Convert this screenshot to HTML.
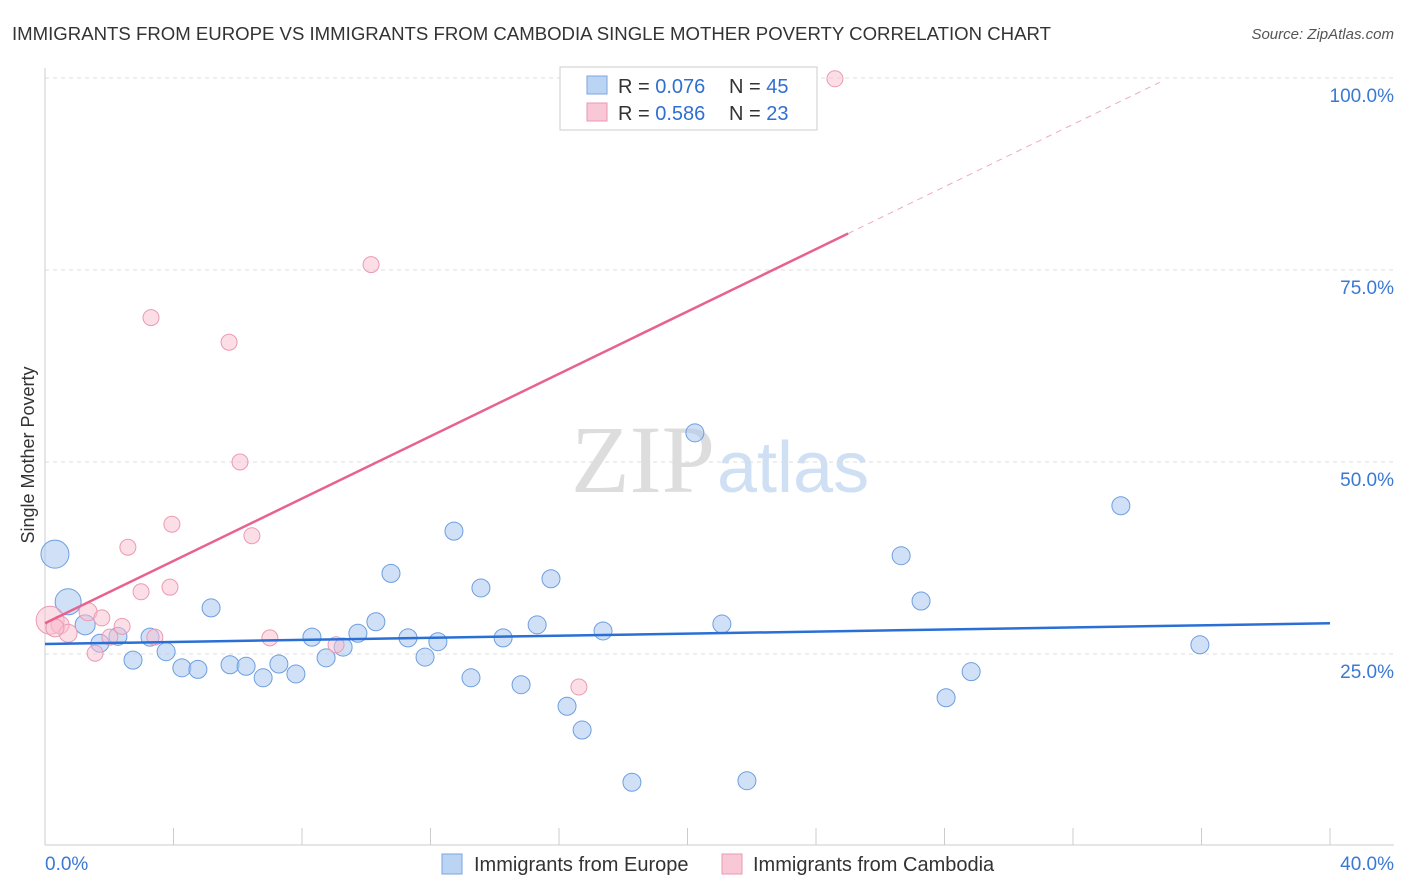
<!DOCTYPE html>
<html><head><meta charset="utf-8"><style>
body{margin:0;background:#fff;font-family:"Liberation Sans",sans-serif;}
svg{display:block}
</style></head><body>
<svg id="chart" width="1406" height="892" xmlns="http://www.w3.org/2000/svg">
<text x="12" y="40" font-size="18.6" fill="#333">IMMIGRANTS FROM EUROPE VS IMMIGRANTS FROM CAMBODIA SINGLE MOTHER POVERTY CORRELATION CHART</text>
<text x="1394" y="39" font-size="15" fill="#555" text-anchor="end" font-style="italic">Source: ZipAtlas.com</text>
<text x="715" y="492" font-size="96" fill="#ddd" text-anchor="end" font-family="Liberation Serif">ZIP</text>
<text x="717" y="492" font-size="72" fill="#cfe0f4">atlas</text>
<text x="34" y="455" font-size="18" fill="#333" text-anchor="middle" transform="rotate(-90 34 455)">Single Mother Poverty</text>
<g id="grid"></g><g id="marks"></g>
<g>
<rect x="560" y="67" width="257" height="63" fill="#fff" stroke="#ccc"/>
<rect x="587" y="76" width="20" height="18" fill="#bcd4f4" stroke="#7aa6e0"/>
<rect x="587" y="103" width="20" height="18" fill="#f9c8d6" stroke="#ec97b0"/>
<text x="618" y="93" font-size="20" fill="#333">R = <tspan fill="#2f6fd1">0.076</tspan></text>
<text x="729" y="93" font-size="20" fill="#333">N = <tspan fill="#2f6fd1">45</tspan></text>
<text x="618" y="120" font-size="20" fill="#333">R = <tspan fill="#2f6fd1">0.586</tspan></text>
<text x="729" y="120" font-size="20" fill="#333">N = <tspan fill="#2f6fd1">23</tspan></text>
</g>
<g>
<rect x="442" y="854" width="20" height="20" fill="#bcd4f4" stroke="#7aa6e0"/>
<text x="474" y="871" font-size="20" fill="#333">Immigrants from Europe</text>
<rect x="722" y="854" width="20" height="20" fill="#f9c8d6" stroke="#ec97b0"/>
<text x="753" y="871" font-size="20" fill="#333">Immigrants from Cambodia</text>
</g>
<text x="45" y="870" font-size="19" fill="#3a78d4">0.0%</text>
<text x="1394" y="870" font-size="19" fill="#3a78d4" text-anchor="end">40.0%</text>
</svg>
<script>
const yTicks=[25,50,75,100];
const yTickLabels=["25.0%","50.0%","75.0%","100.0%"];
const xTicks=[0,4,8,12,16,20,24,28,32,36,40];
const europeX=[0.31,0.72,1.25,1.71,2.27,2.74,3.27,3.77,4.26,4.76,5.17,5.76,6.26,6.79,7.28,7.81,8.31,8.75,9.28,9.74,10.30,10.77,11.30,11.83,12.23,12.73,13.26,13.57,14.26,14.82,15.32,15.75,16.25,16.72,17.37,18.27,20.23,21.07,21.85,26.65,27.27,28.05,28.83,33.49,35.95];
const europeY=[38.0,31.8,28.8,26.4,27.3,24.2,27.2,25.3,23.2,23.0,31.0,23.6,23.4,21.9,23.7,22.4,27.2,24.5,25.9,27.7,29.2,35.5,27.1,24.6,26.6,41.0,21.9,33.6,27.1,21.0,28.8,34.8,18.2,15.1,28.0,8.3,53.8,28.9,8.5,37.8,31.9,19.3,22.7,44.3,26.2];
const europeR=[14,13,10,9,9,9,9,9,9,9,9,9,9,9,9,9,9,9,9,9,9,9,9,9,9,9,9,9,9,9,9,9,9,9,9,9,9,9,9,9,9,9,9,9,9];
const cambX=[0.16,0.47,0.72,1.34,1.56,1.77,2.02,2.40,2.58,2.99,3.30,3.42,3.89,3.95,5.73,6.07,6.44,7.00,9.06,10.15,16.62,24.59,0.31];
const cambY=[29.4,28.8,27.7,30.5,25.1,29.7,27.2,28.6,38.9,33.1,68.8,27.2,33.7,41.9,65.6,50.0,40.4,27.1,26.2,75.7,20.7,99.9,28.4];
const cambR=[14,9,9,9,8,8,8,8,8,8,8,8,8,8,8,8,8,8,8,8,8,8,9];
const europeFit=[26.3,29.0];
const cambFit=[29.0,2.03,25.0,34.7];
const NS="http://www.w3.org/2000/svg";
const xs=v=>45+v/40*1285, ys=v=>846-v*7.68;
function mk(t,a,p){const e=document.createElementNS(NS,t);for(const k in a)e.setAttribute(k,a[k]);p.appendChild(e);return e;}
const grid=document.getElementById('grid'),marks=document.getElementById('marks');
yTicks.forEach((t,i)=>{
 const l=mk('line',{x1:45,x2:1394,y1:ys(t),y2:ys(t),stroke:'#ddd','stroke-dasharray':'4,4'},grid);
 
 
 const tx=mk('text',{x:1394,y:ys(t)+24,'font-size':19,fill:'#3a78d4','text-anchor':'end'},grid);tx.textContent=yTickLabels[i];
 
 
});
const ax=mk('line',{x1:45,x2:1394,y1:845,y2:845,stroke:'#ccc'},grid);


const ay=mk('line',{x1:45,x2:45,y1:68,y2:845,stroke:'#ccc'},grid);


xTicks.forEach(t=>{const l=mk('line',{x1:xs(t),x2:xs(t),y1:828,y2:845,stroke:'#ccc'},grid);
 
 });
europeX.forEach((x,i)=>{const c=mk('circle',{cx:xs(x),cy:ys(europeY[i]),r:europeR[i],fill:'rgba(170,200,240,0.55)',stroke:'#6d9ee0','stroke-width':1},marks);
 
 });
cambX.forEach((x,i)=>{const c=mk('circle',{cx:xs(x),cy:ys(cambY[i]),r:cambR[i],fill:'rgba(249,190,208,0.5)',stroke:'#ec9ab3','stroke-width':1},marks);
 
 });
const bl=mk('line',{x1:xs(0),y1:ys(europeFit[0]),x2:xs(40),y2:ys(europeFit[1]),stroke:'#2a6fd6','stroke-width':2.5},marks);


const pe=cambFit[0]+cambFit[1]*cambFit[2];
const pl=mk('line',{x1:xs(0),y1:ys(cambFit[0]),x2:xs(cambFit[2]),y2:ys(pe),stroke:'#e8628f','stroke-width':2.5},marks);


const pd=mk('line',{x1:xs(cambFit[2]),y1:ys(pe),x2:xs(cambFit[3]),y2:ys(cambFit[0]+cambFit[1]*cambFit[3]),stroke:'#eeaac0','stroke-width':1,'stroke-dasharray':'6,5'},marks);


</script>
</body></html>
